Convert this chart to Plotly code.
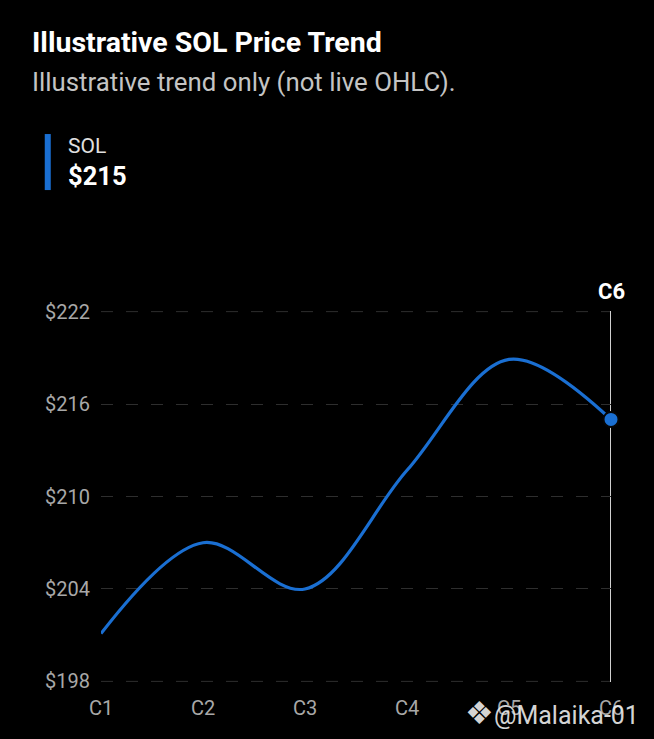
import plotly.graph_objects as go

categories = ["C1", "C2", "C3", "C4", "C5", "C6"]
sol_prices = [201.1, 207.0, 204.0, 211.7, 218.9, 215.0]
y_ticks = [198, 204, 210, 216, 222]
y_tick_labels = ["$198", "$204", "$210", "$216", "$222"]

BLUE = "#1a6fd2"
FONT = "Roboto"
GRID = "#2e2e2e"
GRID_DASH = "12px,13px"

fig = go.Figure()
fig.add_trace(go.Scatter(
    x=categories, y=sol_prices, mode="lines",
    line=dict(color=BLUE, width=3.2, shape="spline", smoothing=1.0),
    hoverinfo="skip", showlegend=False,
))
fig.add_trace(go.Scatter(
    x=[categories[-1]], y=[sol_prices[-1]], mode="markers", cliponaxis=False,
    marker=dict(color=BLUE, size=15, line=dict(color="#050505", width=2)),
    hoverinfo="skip", showlegend=False,
))

# edge gridlines (plotly omits gridlines on the plot-area boundary)
for v in (y_ticks[0], y_ticks[-1]):
    fig.add_shape(type="line", xref="paper", yref="y", x0=0, x1=1, y0=v, y1=v,
                  line=dict(color=GRID, width=1, dash=GRID_DASH), layer="below")

# vertical cursor line at last category
fig.add_shape(type="line", xref="x", yref="paper", x0=categories[-1], x1=categories[-1],
              y0=0, y1=1, line=dict(color="#d0d0d0", width=2), layer="below")

# legend bar
fig.add_shape(type="line", xref="paper", yref="paper", x0=-0.1044, x1=-0.1044,
              y0=1.326, y1=1.477, line=dict(color=BLUE, width=6))

annotations = [
    dict(text="<b>Illustrative SOL Price Trend</b>", x=-0.139, y=1.7224,
         font=dict(size=28.5, color="#ffffff", family=FONT)),
    dict(text="Illustrative trend only (not live OHLC).", x=-0.139, y=1.617,
         font=dict(size=25.8, color="#c4c4c4", family=FONT)),
    dict(text="SOL", x=-0.0686, y=1.4447,
         font=dict(size=21, color="#e0e0e0", family=FONT)),
    dict(text="<b>$215</b>", x=-0.0686, y=1.3639,
         font=dict(size=25.5, color="#ffffff", family=FONT)),
]
for a in annotations:
    fig.add_annotation(xref="paper", yref="paper", xanchor="left", yanchor="middle",
                       showarrow=False, **a)

fig.add_annotation(text="<b>C6</b>", xref="paper", yref="paper", x=1.0, y=1.0539,
                   xanchor="center", yanchor="middle", showarrow=False,
                   font=dict(size=22, color="#ffffff", family=FONT))
fig.add_annotation(text='<span style="font-size:32px">❖</span>@Malaika-01',
                   xref="paper", yref="paper", x=1.0588, y=-0.0836,
                   xanchor="right", yanchor="middle", showarrow=False,
                   font=dict(size=25, color="rgba(235,235,235,0.92)", family=FONT))

fig.update_layout(
    width=654, height=739,
    margin=dict(l=101, r=43, t=311, b=57),
    paper_bgcolor="#000000", plot_bgcolor="#000000",
    font=dict(family=FONT, color="#a8a8a8"),
    xaxis=dict(
        type="category", range=[0, 5], showgrid=False, zeroline=False, showline=False,
        tickfont=dict(size=20, color="#a8a8a8", family=FONT), ticks="", ticklabelstandoff=12,
    ),
    yaxis=dict(
        range=[197.96, 222.04], tickvals=y_ticks, ticktext=y_tick_labels,
        showgrid=True, gridcolor=GRID, gridwidth=1, griddash=GRID_DASH,
        zeroline=False, showline=False, ticks="", ticklabelstandoff=10,
        tickfont=dict(size=20, color="#a8a8a8", family=FONT),
    ),
)

fig.write_html("out.html", config={"displayModeBar": False},
               post_script="document.body.style.margin='0';document.body.style.background='#000';")
